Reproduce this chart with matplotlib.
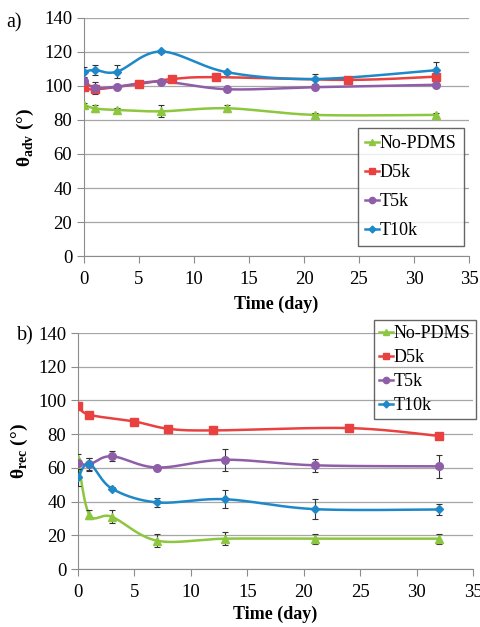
import numpy as np
import matplotlib
matplotlib.use("Agg")
import matplotlib.pyplot as plt
from matplotlib.lines import Line2D

plt.rcParams['font.family'] = ['Liberation Serif', 'DejaVu Serif']
plt.rcParams['mathtext.fontset'] = 'custom'
plt.rcParams['mathtext.rm'] = 'Liberation Serif'
plt.rcParams['mathtext.bf'] = 'Liberation Serif:bold'

series_names = ["No-PDMS", "D5k", "T5k", "T10k"]
colors = ["#8DC63F", "#E8413F", "#8E5EA8", "#1E88C8"]
markers = ["^", "s", "o", "D"]

# (a) advancing contact angle
adv_x = {
    "No-PDMS": [0, 1, 3, 7, 13, 21, 32],
    "D5k": [0, 1, 5, 8, 12, 24, 32],
    "T5k": [0, 1, 3, 7, 13, 21, 32],
    "T10k": [0, 1, 3, 7, 13, 21, 32],
}
adv_y = {
    "No-PDMS": [89.0, 86.8, 85.9, 85.1, 86.9, 83.0, 83.0],
    "D5k": [99.3, 98.0, 101.2, 104.1, 105.2, 103.6, 105.5],
    "T5k": [103.0, 98.9, 99.6, 102.6, 98.1, 99.3, 100.7],
    "T10k": [108.4, 109.4, 108.4, 120.3, 108.1, 104.1, 109.3],
}
adv_err = {
    "No-PDMS": [1.0, 2.0, 1.0, 3.6, 2.0, 1.0, 1.0],
    "D5k": [1.0, 1.5, 2.0, 1.0, 1.0, 1.0, 1.0],
    "T5k": [2.0, 3.6, 1.0, 1.0, 1.0, 1.0, 1.0],
    "T10k": [3.0, 3.0, 3.7, 1.0, 1.0, 2.7, 4.7],
}

# (b) receding contact angle
rec_x = {
    "No-PDMS": [0, 1, 3, 7, 13, 21, 32],
    "D5k": [0, 1, 5, 8, 12, 24, 32],
    "T5k": [0, 1, 3, 7, 13, 21, 32],
    "T10k": [0, 1, 3, 7, 13, 21, 32],
}
rec_y = {
    "No-PDMS": [65.0, 32.3, 31.0, 16.8, 18.0, 18.0, 18.0],
    "D5k": [96.6, 91.5, 87.5, 83.2, 82.2, 83.6, 78.9],
    "T5k": [62.9, 62.0, 66.9, 60.2, 64.8, 61.5, 60.9],
    "T10k": [54.3, 62.5, 47.7, 39.5, 41.4, 35.5, 35.3],
}
rec_err = {
    "No-PDMS": [3.0, 2.5, 4.0, 4.0, 4.0, 3.0, 3.0],
    "D5k": [1.0, 1.5, 1.0, 1.0, 1.0, 1.0, 1.0],
    "T5k": [2.0, 4.0, 3.0, 1.0, 6.5, 4.0, 7.0],
    "T10k": [5.0, 3.5, 1.0, 2.5, 5.5, 6.0, 3.0],
}


def smooth(x, y, n=30):
    x = np.asarray(x, float)
    y = np.asarray(y, float)
    P = np.column_stack([x, y])
    out = [P[0]]
    for i in range(len(P) - 1):
        p0 = P[i - 1] if i > 0 else P[i]
        p1 = P[i]
        p2 = P[i + 1]
        p3 = P[i + 2] if i + 2 < len(P) else P[i + 1]
        c1 = p1 + (p2 - p0) / 6.0
        c2 = p2 - (p3 - p1) / 6.0
        t = np.linspace(0, 1, n)[1:, None]
        seg = ((1 - t) ** 3) * p1 + 3 * ((1 - t) ** 2) * t * c1 + 3 * (1 - t) * t ** 2 * c2 + t ** 3 * p2
        out.extend(seg)
    out = np.array(out)
    return out[:, 0], out[:, 1]


fig = plt.figure(figsize=(4.81, 6.27), dpi=100)
ax1 = fig.add_axes([84 / 481, 1 - 256 / 627, 385 / 481, 238 / 627])
ax2 = fig.add_axes([78 / 481, 1 - 569 / 627, 395 / 481, 236 / 627])

def draw(ax, xs, ys, errs, ylabel, xlabelpad):
    handles = []
    for name, c, m in zip(series_names, colors, markers):
        sx, sy = smooth(xs[name], ys[name])
        ax.plot(sx, sy, color=c, lw=1.8, zorder=3)
        ax.errorbar(xs[name], ys[name], yerr=errs[name], fmt='none', ecolor='#333333',
                    elinewidth=0.8, capsize=2, capthick=0.8, zorder=4)
        ms = 5.5 if m != "D" else 4.5
        ax.plot(xs[name], ys[name], linestyle='none', marker=m, color=c, ms=ms, zorder=5)
        handles.append(Line2D([0], [0], color=c, lw=1.8, marker=m, ms=ms - 1))
    ax.set_xlim(0, 35)
    ax.set_ylim(0, 140)
    ax.set_xticks(range(0, 36, 5))
    ax.set_yticks(range(0, 141, 20))
    ax.yaxis.grid(True, color='#A6A6A6', lw=0.9)
    ax.set_axisbelow(True)
    for s in ['top', 'right']:
        ax.spines[s].set_visible(False)
    for s in ['left', 'bottom']:
        ax.spines[s].set_color('#8C8C8C')
    ax.tick_params(axis='both', colors='#8C8C8C', labelcolor='black', labelsize=13.5,
                   direction='out', length=5)
    ax.tick_params(axis='x', pad=6)
    ax.set_xlabel('Time (day)', fontsize=13, fontweight='bold', labelpad=xlabelpad)
    ax.set_ylabel(ylabel, fontsize=14, fontweight='bold', labelpad=6)
    return handles

h1 = draw(ax1, adv_x, adv_y, adv_err, r'$\mathbf{\theta}_{\mathbf{adv}}$ (°)', 5)
leg1 = ax1.legend(h1, series_names, loc='upper left',
                  fontsize=13, frameon=True, fancybox=False, edgecolor='#404040',
                  handlelength=0.75, handletextpad=0.05, labelspacing=0.66, borderpad=0.4,
                  borderaxespad=0)
leg1.get_frame().set_linewidth(1.0)
leg1.set_bbox_to_anchor((274 / 385, 1 - (128 - 18) / 238), transform=ax1.transAxes)

h2 = draw(ax2, rec_x, rec_y, rec_err, r'$\mathbf{\theta}_{\mathbf{rec}}$ (°)', 3)
leg2 = ax2.legend(h2, series_names, loc='upper left',
                  fontsize=13, frameon=True, fancybox=False, edgecolor='#404040',
                  handlelength=0.75, handletextpad=0.05, labelspacing=0.38, borderpad=0.3,
                  borderaxespad=0)
leg2.get_frame().set_facecolor('none')
leg2.get_frame().set_linewidth(1.0)
leg2.set_bbox_to_anchor((296 / 395, 1 - (320 - 333) / 236), transform=ax2.transAxes)

fig.text(6 / 481, 1 - 27 / 627, 'a)', fontsize=14.5)
fig.text(17 / 481, 1 - 340 / 627, 'b)', fontsize=14.5)

fig.savefig('out.png', dpi=100)
